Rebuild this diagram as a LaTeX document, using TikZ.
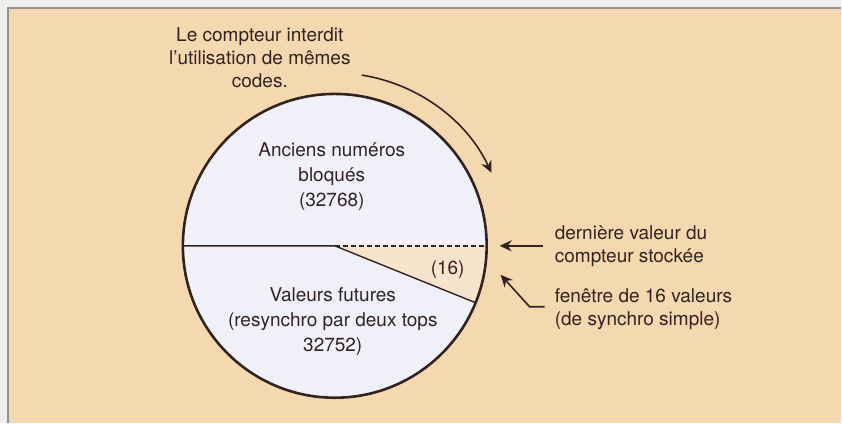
\documentclass[tikz,border=0pt]{standalone}
\usepackage{fontspec}
\setmainfont{TeX Gyre Heros}
\usetikzlibrary{arrows.meta,positioning}
\definecolor{panelPeach}{RGB}{244,216,176}
\definecolor{pageGray}{RGB}{238,238,236}
\definecolor{frameGray}{RGB}{150,145,140}
\definecolor{discWhite}{RGB}{240,241,248}
\definecolor{wedgePeach}{RGB}{247,228,204}
\definecolor{inkBrown}{RGB}{50,35,32}
\tikzset{
  discText/.style={align=center,text=inkBrown,
                   font=\fontsize{19}{25}\selectfont,inner sep=2pt},
  sideText/.style={align=left,anchor=west,text=inkBrown,
                   font=\fontsize{19}{23}\selectfont,inner sep=3pt},
  ptrArrow/.style={-{Stealth[length=12pt,width=11pt]},line width=1.6pt,draw=inkBrown},
  discLine/.style={line width=#1,draw=inkBrown},
}

\begin{document}
\begin{tikzpicture}[x=1pt,y=1pt]
  % page and panel
  \fill[pageGray] (-335,-177) rectangle (507,246);
  \fill[panelPeach] (-327,-177) rectangle (507,238);
  \draw[frameGray,line width=1.2pt] (-327,-177) -- (-327,238) -- (507,238);
  % disc
  \fill[discWhite] (0,0) circle[radius=152];
  \fill[wedgePeach] (0,0) -- (0:152) arc[start angle=0,end angle=-22,radius=152] -- cycle;
  \draw[discLine=1.4pt] (180:152) -- (0,0) -- (-22:152);
  \draw[discLine=1.4pt,dash pattern=on 5pt off 3pt] (0,0) -- (0:152);
  \draw[discLine=2.6pt] (0,0) circle[radius=152];
  % texts
  \node[discText] (oldNums) at (-3,69) {Anciens numéros\\bloqués\\(32768)};
  \node[discText] (futureNums) at (-2,-76) {Valeurs futures\\(resynchro par deux tops\\32752)};
  \node[discText] (winCount) at (113,-24) {(16)};
  \node[discText,font=\fontsize{19}{23}\selectfont] (ctrNote) at (-75,188)
    {Le compteur interdit\\l'utilisation de mêmes\\codes.};
  \node[sideText] (lastLbl) at (217,0) {dernière valeur du\\compteur stockée};
  \node[sideText] (winLbl) at (217,-63) {fenêtre de 16 valeurs\\(de synchro simple)};
  % pointers
  \coordinate (lastTip) at (165,0);
  \coordinate (winTip) at (166,-29);
  \coordinate (arcStart) at (81:173);
  \draw[ptrArrow] ([xshift=-9pt]lastLbl.west) -- (lastTip);
  \draw[ptrArrow] ([xshift=-7pt,yshift=2pt]winLbl.west) -- ++(-15,0) -- (winTip);
  \draw[ptrArrow] (arcStart) arc[start angle=81,end angle=25,radius=173];
\end{tikzpicture}
\end{document}
